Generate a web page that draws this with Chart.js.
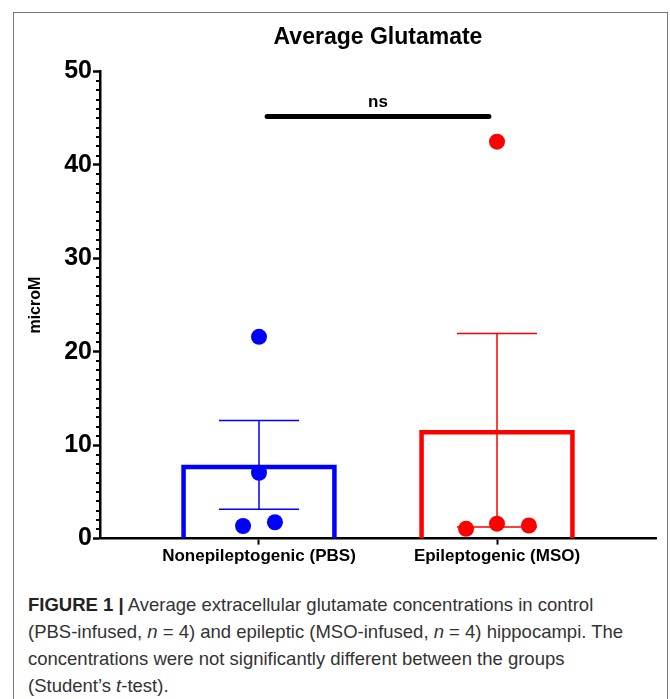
<!DOCTYPE html>
<html>
<head>
<meta charset="utf-8">
<script src="https://cdn.jsdelivr.net/npm/chart.js@4.4.1/dist/chart.umd.min.js"></script>
<style>
  body { margin: 0; background: #fff; }
  #frame {
    position: absolute; left: 13px; top: 12px; width: 653px; height: 720px;
    border: 1.5px solid #777; border-bottom: none;
  }
  #chartBox { position: absolute; left: 0; top: 0; width: 670px; height: 580px; }
  #caption {
    position: absolute; left: 28px; top: 591px; width: 636px;
    font-family: "Liberation Sans", Arial, sans-serif; font-size: 18.5px;
    line-height: 27px; color: #333; white-space: nowrap;
  }
  #caption b { color: #222; }
</style>
</head>
<body>
<div id="frame"></div>
<div id="chartBox"><canvas id="chart" width="670" height="580"></canvas></div>
<div id="caption"><b>FIGURE 1 |</b> Average extracellular glutamate concentrations in control<br>(PBS-infused, <i>n</i> = 4) and epileptic (MSO-infused, <i>n</i> = 4) hippocampi. The<br>concentrations were not significantly different between the groups<br>(Student’s <i>t</i>-test).</div>
<script>
const categories = ['Nonepileptogenic (PBS)', 'Epileptogenic (MSO)'];
const groupX = [1, 2];
const groupColors = ['#0000ff', '#ff0000'];

// individual animals
const pbsValues = [21.6, 7.05, 1.35, 1.75];
const pbsJitter = [0, 0, -0.067, 0.067];
const msoValues = [42.5, 1.05, 1.6, 1.4];
const msoJitter = [0, -0.13, 0, 0.134];

// mean +/- SEM
const means = [7.9, 11.6];
const sems = [4.75, 10.35];

const yTicks = [0, 10, 20, 30, 40, 50];

// significance bracket
const sigSpan = [1.034, 1.966];
const sigLevel = 45.2;
const sigLabel = 'ns';

const FONT = '"Liberation Sans", Arial, sans-serif';
const BAR_INDEX = 2;

const points = [];
const pointColors = [];
pbsValues.forEach(function(v, i) {
    points.push({ x: groupX[0] + pbsJitter[i], y: v });
    pointColors.push(groupColors[0]);
});
msoValues.forEach(function(v, i) {
    points.push({ x: groupX[1] + msoJitter[i], y: v });
    pointColors.push(groupColors[1]);
});

const errorBars = {
    id: 'errorBars',
    afterDatasetDraw(chart, args) {
        if (args.index !== BAR_INDEX) return;
        const ctx = chart.ctx;
        const xs = chart.scales.x, ys = chart.scales.y;
        ctx.save();
        ctx.lineWidth = 1.5;
        means.forEach(function(m, i) {
            const x = xs.getPixelForValue(groupX[i]);
            const top = ys.getPixelForValue(m + sems[i]);
            const bot = ys.getPixelForValue(m - sems[i]);
            ctx.strokeStyle = groupColors[i];
            ctx.beginPath();
            ctx.moveTo(x, top); ctx.lineTo(x, bot);
            ctx.moveTo(x - 40, top); ctx.lineTo(x + 40, top);
            ctx.moveTo(x - 40, bot); ctx.lineTo(x + 40, bot);
            ctx.stroke();
        });
        ctx.restore();
    }
};

const extras = {
    id: 'extras',
    afterDraw(chart) {
        const ctx = chart.ctx;
        const xs = chart.scales.x, ys = chart.scales.y;
        ctx.save();
        // minor ticks on y axis
        ctx.strokeStyle = '#000';
        ctx.lineWidth = 2;
        const left = chart.chartArea.left;
        for (let v = ys.min; v <= ys.max; v++) {
            if (v % 10 === 0) continue;
            const y = Math.round(ys.getPixelForValue(v));
            ctx.beginPath();
            ctx.moveTo(left - 4, y); ctx.lineTo(left, y);
            ctx.stroke();
        }
        // significance label
        const cx = (xs.getPixelForValue(sigSpan[0]) + xs.getPixelForValue(sigSpan[1])) / 2;
        ctx.fillStyle = '#000';
        ctx.font = 'bold 17px ' + FONT;
        ctx.textAlign = 'center';
        ctx.textBaseline = 'middle';
        ctx.fillText(sigLabel, cx, ys.getPixelForValue(sigLevel) - 14);
        ctx.restore();
    }
};

new Chart(document.getElementById('chart'), {
    type: 'scatter',
    data: {
        datasets: [
            {
                type: 'scatter',
                data: points,
                pointRadius: 8,
                pointHoverRadius: 8,
                pointBackgroundColor: pointColors,
                pointBorderWidth: 0,
                clip: false
            },
            {
                type: 'line',
                data: sigSpan.map(function(x) { return { x: x, y: sigLevel }; }),
                borderColor: '#000',
                borderWidth: 5,
                borderCapStyle: 'round',
                pointRadius: 0
            },
            {
                type: 'bar',
                data: means.map(function(m, i) { return { x: groupX[i], y: m }; }),
                backgroundColor: 'rgba(0,0,0,0)',
                borderColor: groupColors,
                borderWidth: 4,
                borderSkipped: 'start',
                barThickness: 155
            }
        ]
    },
    options: {
        responsive: false,
        animation: false,
        layout: { padding: { left: 0, right: 14, top: 0, bottom: 11 } },
        plugins: {
            legend: { display: false },
            tooltip: { enabled: false },
            title: {
                display: true,
                text: 'Average Glutamate',
                color: '#000',
                fullSize: false,
                font: { family: FONT, size: 23, weight: 'bold' },
                padding: { top: 24, bottom: 20 }
            }
        },
        scales: {
            x: {
                type: 'linear',
                min: 0.332,
                max: 2.668,
                offset: false,
                afterBuildTicks: function(scale) {
                    scale.ticks = groupX.map(function(v) { return { value: v }; });
                },
                ticks: {
                    autoSkip: false,
                    maxRotation: 0,
                    color: '#000',
                    padding: 2,
                    font: { family: FONT, size: 17, weight: 'bold' },
                    callback: function(value) {
                        return categories[groupX.indexOf(value)];
                    }
                },
                grid: { drawOnChartArea: false, offset: false, tickLength: 6, tickWidth: 2, tickColor: '#000' },
                border: { color: '#000', width: 2.5 }
            },
            y: {
                min: 0,
                max: 50,
                afterBuildTicks: function(scale) {
                    scale.ticks = yTicks.map(function(v) { return { value: v }; });
                },
                afterFit: function(scale) { scale.width = 100; },
                ticks: {
                    color: '#000',
                    padding: 1,
                    font: { family: FONT, size: 25, weight: 'bold' }
                },
                title: {
                    display: true,
                    text: 'microM',
                    color: '#000',
                    font: { family: FONT, size: 16, weight: 'bold' },
                    padding: { top: 26, bottom: 0 }
                },
                grid: { drawOnChartArea: false, tickLength: 7, tickWidth: 2.5, tickColor: '#000' },
                border: { color: '#000', width: 2.5 }
            }
        }
    },
    plugins: [errorBars, extras]
});
</script>
</body>
</html>
